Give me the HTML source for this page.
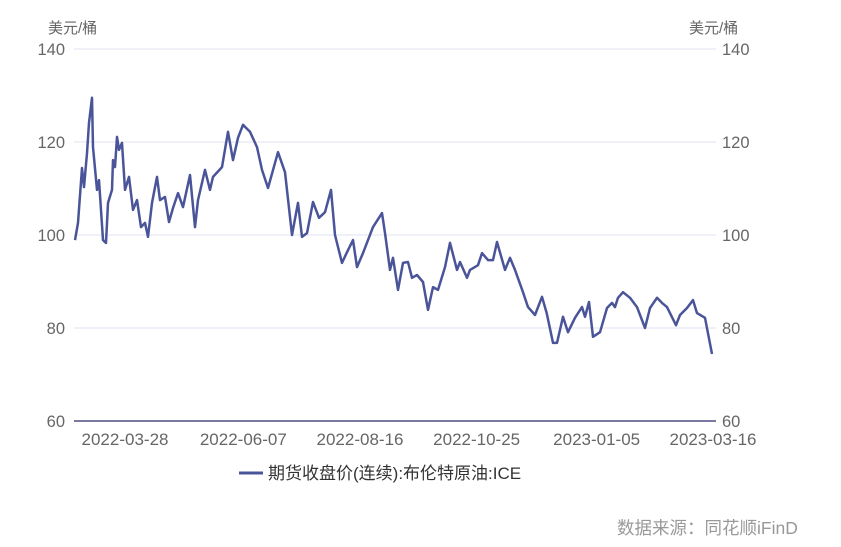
<!DOCTYPE html>
<html><head><meta charset="utf-8"><style>
body{margin:0;background:#fff;width:841px;height:547px;overflow:hidden}
svg{display:block;font-family:"Liberation Sans","Noto Sans CJK SC",sans-serif}
</style></head><body>
<svg id="chart" width="841" height="547"></svg>
<script>
const days=[0,1.8,4.2,5.4,7.2,8.4,10.2,10.8,13.2,14.4,16.8,18.6,19.8,22.2,22.8,24,25.2,26.4,28.2,30,32.4,34.8,37.2,39.6,42,43.8,46.2,49.2,51,54,56.4,58.8,61.8,64.8,69,72,73.8,78,81,82.8,88.2,91.8,94.8,97.8,100.8,105,109.2,112.2,115.8,121.8,126,130.2,133.8,136.2,139.2,142.8,146.4,150,153.6,156,160.2,163.2,166.8,169.2,172.8,178.8,184.2,186,189,190.8,193.8,196.8,199.8,202.2,205.2,208.8,211.8,214.8,217.8,222,225,229.2,231,235.2,237,241.8,244.2,247.8,250.8,253.2,258,261,264,268.8,271.8,276,280.2,283,286.8,289.2,292.8,295.8,300,304.2,306,308.4,310.8,315,319.2,322.2,324,325.8,328.8,333,337.2,342,345,349.2,352.2,355.2,360.6,363,367.2,370.8,373.2,378,382.2];
const prices=[98.9,102.6,114.4,110.3,117.6,124.1,129.5,118.9,109.7,111.8,98.9,98.3,106.9,109.7,116.1,114.6,121.1,118.3,119.8,109.7,112.5,105.4,107.5,101.7,102.6,99.6,106.9,112.5,107.5,108.2,102.8,105.8,109,106,112.9,101.7,107.5,114,109.7,112.5,114.6,122.2,116.1,120.9,123.7,122.2,118.9,114,110.1,117.8,113.5,100,106.9,99.6,100.4,107.1,103.7,104.9,109.7,100,94,96.3,98.9,93.1,96.1,101.7,104.7,100.4,92.5,95.1,88.2,94,94.2,90.8,91.4,89.9,83.9,88.8,88.2,93.1,98.3,92.5,94.2,90.8,92.5,93.5,96.1,94.6,94.6,98.5,92.5,95.1,92.5,87.7,84.5,82.8,86.7,83.2,76.8,76.8,82.4,79.1,82.2,84.5,82.4,85.6,78.1,79.1,84.3,85.4,84.5,86.5,87.7,86.5,84.5,80,84.3,86.5,85.4,84.5,80.6,82.8,84.3,86,83.2,82.2,74.4];
const yTicks=[60,80,100,120,140];
const xTickLabels=["2022-03-28","2022-06-07","2022-08-16","2022-10-25","2023-01-05","2023-03-16"];
const NS="http://www.w3.org/2000/svg";
const svg=document.getElementById('chart');
const base=Date.UTC(2022,1,26);
function xs(d){return 75+(d/382.2)*637;}
function ys(v){return 421-(v-60)*4.65;}
function mk(t,a,txt){const e=document.createElementNS(NS,t);for(const k in a)e.setAttribute(k,a[k]);if(txt!=null)e.textContent=txt;svg.appendChild(e);return e;}
yTicks.forEach(v=>{
  const y=ys(v);
  const g=mk('line',{x1:74,x2:716,y1:y,y2:y,stroke:v===60?'#7a7aa0':'#ececf5','stroke-width':v===60?2:1.5});
  
  
  const l=mk('text',{x:65,y:y+6,'text-anchor':'end','font-size':16.5,fill:'#666'},v);
  
  
  const r=mk('text',{x:722,y:y+6,'text-anchor':'start','font-size':16.5,fill:'#666'},v);
  
  
});
xTickLabels.forEach(s=>{
  const p=s.split('-');const d=(Date.UTC(+p[0],+p[1]-1,+p[2])-base)/86400000;
  const t=mk('text',{x:Math.min(xs(d),713),y:445,'text-anchor':'middle','font-size':17,fill:'#666'},s);
  
  
});
let u=mk('text',{x:48,y:33,'font-size':15,fill:'#666'},'美元/桶');


u=mk('text',{x:689,y:33,'font-size':15,fill:'#666'},'美元/桶');


const path=mk('path',{d:days.map((d,i)=>(i?'L':'M')+xs(d).toFixed(1)+','+ys(prices[i]).toFixed(1)).join(''),fill:'none',stroke:'#4a5499','stroke-width':2.5,'stroke-linejoin':'round'});


const lg=mk('line',{x1:239,x2:263,y1:473,y2:473,stroke:'#4a5499','stroke-width':3});


const lt=mk('text',{x:268,y:479,'font-size':17,fill:'#333'},'期货收盘价(连续):布伦特原油:ICE');


const src=mk('text',{x:617,y:534,'font-size':17.5,fill:'#999'},'数据来源：同花顺iFinD');


</script>
</body></html>
